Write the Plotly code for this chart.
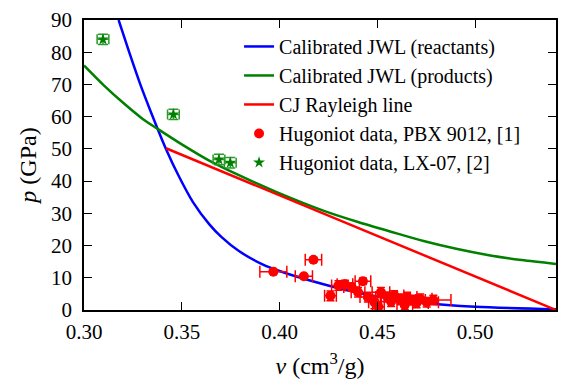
import plotly.graph_objects as go

# Calibrated JWL (reactants)
v_react = [0.3177, 0.3231, 0.3285, 0.3345, 0.3419, 0.3485, 0.3557, 0.3642, 0.3702,
           0.3792, 0.3918, 0.3985, 0.4069, 0.4124, 0.4287, 0.4500, 0.4736, 0.5000, 0.5413]
p_react = [90.0, 80.0, 70.5, 61.0, 50.0, 41.5, 33.5, 26.5, 22.7,
           18.3, 14.0, 12.4, 10.7, 9.7, 7.0, 4.2, 2.2, 1.0, 0.25]

# Calibrated JWL (products)
v_prod = [0.300, 0.310, 0.320, 0.330, 0.3377, 0.350, 0.3633, 0.380, 0.3985, 0.4234,
          0.4401, 0.4569, 0.4736, 0.4903, 0.5070, 0.5237, 0.5413]
p_prod = [75.9, 69.8, 64.3, 59.3, 56.2, 51.4, 46.6, 41.6, 36.6, 30.6,
          27.3, 24.3, 21.4, 19.0, 17.0, 15.5, 14.3]

# CJ Rayleigh line
v_ray = [0.3419, 0.5413]
p_ray = [50.2, 0.0]

# Hugoniot data, PBX 9012
v_pbx = [0.3968, 0.4173, 0.4124, 0.4260, 0.4301, 0.4334, 0.4368, 0.4426, 0.4401, 0.4451,
         0.4485, 0.4518, 0.4552, 0.4585, 0.4618, 0.4652, 0.4685, 0.4719, 0.4752, 0.4786,
         0.4505, 0.4640, 0.4570, 0.4700]
p_pbx = [11.9, 15.6, 10.5, 4.4, 7.6, 8.0, 7.1, 8.9, 5.5, 4.0,
         2.4, 5.5, 4.0, 4.5, 3.5, 4.0, 3.1, 3.5, 2.4, 3.1,
         1.0, 1.6, 2.6, 2.2]
dv_pbx = [0.0069, 0.0042, 0.0044, 0.0030, 0.0035, 0.0040, 0.0040, 0.0040, 0.0035, 0.0040,
          0.0030, 0.0045, 0.0050, 0.0050, 0.0050, 0.0050, 0.0060, 0.0060, 0.0060, 0.0090,
          0.0030, 0.0040, 0.0050, 0.0060]
dp_pbx = [0.6, 0.6, 0.6, 1.5, 1.5, 1.2, 1.2, 1.0, 1.5, 1.5,
          2.0, 1.5, 1.5, 1.5, 1.5, 1.5, 1.5, 1.5, 1.5, 1.5,
          1.5, 1.5, 1.5, 1.5]

# Hugoniot data, LX-07
v_lx = [0.3097, 0.3457, 0.3690, 0.3748]
p_lx = [84.0, 60.7, 46.7, 45.7]
dv_lx = [0.0030, 0.0030, 0.0030, 0.0030]
dp_lx = [1.6, 1.6, 1.6, 1.6]

x_ticks = [0.30, 0.35, 0.40, 0.45, 0.50]
x_ticklabels = ["0.30", "0.35", "0.40", "0.45", "0.50"]
y_ticks = [0, 10, 20, 30, 40, 50, 60, 70, 80, 90]

FONT = "Liberation Serif, DejaVu Serif, Times New Roman, serif"

fig = go.Figure()
fig.add_trace(go.Scatter(x=v_react, y=p_react, mode="lines",
                         line=dict(color="#0000ff", width=2.5, shape="spline", smoothing=0.8),
                         name="Calibrated JWL (reactants)"))
fig.add_trace(go.Scatter(x=v_prod, y=p_prod, mode="lines",
                         line=dict(color="#008000", width=2.5, shape="spline", smoothing=0.8),
                         name="Calibrated JWL (products)"))
fig.add_trace(go.Scatter(x=v_ray, y=p_ray, mode="lines", line=dict(color="#ff0000", width=2.5),
                         name="CJ Rayleigh line"))
fig.add_trace(go.Scatter(x=v_pbx, y=p_pbx, mode="markers", name="Hugoniot data, PBX 9012, [1]",
                         marker=dict(color="#ff0000", size=10, symbol="circle"),
                         error_x=dict(type="data", array=dv_pbx, color="#ff0000", thickness=1.5, width=6),
                         error_y=dict(type="data", array=dp_pbx, color="#ff0000", thickness=1.5, width=4)))
fig.add_trace(go.Scatter(x=v_lx, y=p_lx, mode="markers", name="Hugoniot data, LX-07, [2]",
                         marker=dict(color="#008000", size=9, symbol="star"),
                         error_x=dict(type="data", array=dv_lx, color="#2a9a2a", thickness=1.5, width=5),
                         error_y=dict(type="data", array=dp_lx, color="#2a9a2a", thickness=1.5, width=5)))

axis_common = dict(showline=True, linecolor="black", linewidth=1.5, mirror="ticks",
                   ticks="inside", ticklen=8, tickwidth=1.2, tickcolor="black",
                   showgrid=False, zeroline=False, automargin=False,
                   tickfont=dict(family=FONT, size=21, color="black"))

fig.update_xaxes(range=[0.30, 0.5413], tickvals=x_ticks, ticktext=x_ticklabels,
                 title=dict(text="<i>v</i> (cm<sup>3</sup>/g)", font=dict(family=FONT, size=24, color="black"), standoff=18),
                 ticklabelstandoff=2,
                 **axis_common)
fig.update_yaxes(range=[0, 90], tickvals=y_ticks,
                 title=dict(text="<i>p</i> (GPa)", font=dict(family=FONT, size=24, color="black"), standoff=8),
                 ticklabelstandoff=6,
                 **axis_common)

# the page places the figure 8 px from the top-left corner; size keeps it inside the window
fig.update_layout(
    width=550, height=371,
    margin=dict(l=76, r=2, t=12, b=69),
    plot_bgcolor="white", paper_bgcolor="white",
    font=dict(family=FONT, color="black"),
    legend=dict(x=0.3285, y=0.976, xanchor="left", yanchor="top",
                font=dict(family=FONT, size=20, color="black"),
                bgcolor="rgba(0,0,0,0)", borderwidth=0, itemwidth=30),
)

fig.write_html("out.html")
